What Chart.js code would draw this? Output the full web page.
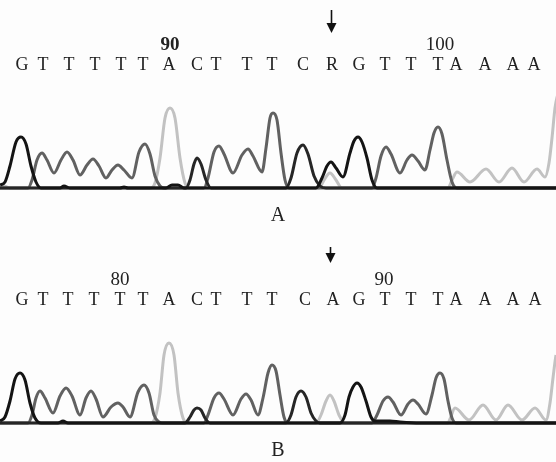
<!DOCTYPE html>
<html>
<head>
<meta charset="utf-8">
<script src="https://cdn.jsdelivr.net/npm/chart.js"></script>
<style>
body { margin: 0; background: #fdfdfd; }
canvas { display: block; }
</style>
</head>
<body>
<canvas id="chartA" width="556" height="235"></canvas>
<canvas id="chartB" width="556" height="227"></canvas>
<script>
// called bases and their positions along the trace
var basesA = ['G','T','T','T','T','T','A','C','T','T','T','C','R','G','T','T','T','A','A','A','A'];
var baseXA = [22, 43, 69, 95, 121, 143, 169, 197, 216, 247, 272, 303, 332, 359, 385, 411, 438, 456, 485, 513, 534];
var basesB = ['G','T','T','T','T','T','A','C','T','T','T','C','A','G','T','T','T','A','A','A','A'];
var baseXB = [22, 43, 68, 94, 120, 143, 169, 197, 216, 247, 272, 305, 333, 359, 385, 411, 438, 456, 485, 513, 535];

// position numbers shown above the sequence
var numLabelsA = ['90', '100'];
var numXA = [170, 440];
var numLabelsB = ['80', '90'];
var numXB = [120, 384];

// mutation arrow position
var arrowXA = 331;
var arrowXB = 330;

// trace channels, [position, signal]
var gTraceA = [[0,3],[5,6],[10,22],[16,46],[21,51],[26,44],[31,22],[36,6],[41,0],[60,0],[64,2],[70,0],[120,0],[124,1],[128,0],
  [166,0],[172,3],[178,3],[184,0],[316,0],[322,10],[327,22],[331,26],[336,20],[343,11],[350,35],[354,47],[358,51],
  [362,46],[367,30],[372,8],[377,0],[556,0]];
var cTraceA = [[0,0],[186,0],[190,8],[194,24],[197,30],[201,24],[206,8],[211,0],[286,0],[291,10],[297,35],[303,43],
  [308,34],[314,12],[320,2],[326,0],[556,0]];
var tTraceA = [[0,0],[28,0],[32,8],[37,28],[42,35],[47,28],[54,15],[61,28],[67,36],[73,28],[80,13],[87,23],[93,29],
  [99,22],[106,10],[112,18],[118,23],[124,18],[132,10],[139,36],[145,44],[150,34],[155,12],[160,2],[164,0],
  [204,0],[208,10],[214,36],[219,42],[224,34],[233,15],[242,33],[248,39],[253,32],[262,16],[266,40],[270,70],
  [273,75],[277,68],[281,35],[285,8],[289,0],[372,0],[376,10],[381,32],[386,41],[391,34],[400,15],[407,28],
  [412,33],[418,27],[425,18],[430,38],[434,55],[438,61],[442,54],[447,28],[452,6],[457,0],[556,0]];
var aTraceA = [[0,0],[4,2],[10,0],[150,0],[155,5],[160,30],[165,70],[170,80],[175,70],[180,30],[185,5],[190,0],
  [319,0],[324,8],[330,15],[336,8],[342,0],[448,0],[452,8],[457,16],[470,6],[486,19],[499,6],[512,20],[524,6],
  [537,19],[545,11],[549,25],[552,50],[555,80],[558,95]];

var gTraceB = [[0,2],[5,6],[10,22],[15,44],[20,50],[25,43],[30,20],[35,5],[41,0],[58,0],[63,2],[68,0],[340,0],[345,8],
  [349,26],[353,36],[357,40],[361,36],[366,22],[371,6],[375,2],[390,2],[400,1],[420,0],[556,0]];
var cTraceB = [[0,0],[185,0],[190,6],[194,13],[197,15],[201,13],[205,5],[210,0],[286,0],[291,8],[296,26],[301,32],
  [306,26],[311,10],[316,2],[320,0],[556,0]];
var tTraceB = [[0,0],[28,0],[32,8],[36,25],[40,32],[45,25],[53,10],[60,27],[66,35],[72,27],[80,8],[86,25],[91,32],
  [96,24],[103,6],[111,16],[118,20],[123,16],[130,6],[138,31],[144,38],[149,30],[154,8],[159,1],[162,0],
  [204,0],[208,8],[214,25],[219,30],[224,24],[233,8],[241,24],[246,29],[251,23],[258,8],[263,25],[268,50],
  [272,58],[276,52],[280,28],[284,6],[288,0],[372,0],[377,8],[383,22],[388,26],[393,21],[401,8],[408,19],
  [413,23],[418,19],[426,9],[432,28],[436,45],[440,50],[444,44],[448,22],[452,5],[456,0],[556,0]];
var aTraceB = [[0,0],[150,0],[155,5],[160,30],[164,68],[169,80],[174,68],[178,30],[183,5],[188,0],[316,0],[321,8],
  [326,22],[330,28],[334,22],[339,8],[345,0],[448,0],[450,4],[455,15],[469,3],[483,18],[496,3],[508,18],[522,3],
  [535,15],[546,3],[550,20],[553,45],[556,68],[559,80]];

function toPoints(trace) {
  return trace.map(function (p) { return { x: p[0], y: p[1] }; });
}

function channel(trace, color) {
  return {
    data: toPoints(trace),
    borderColor: color,
    borderWidth: 3,
    pointRadius: 0,
    fill: false,
    cubicInterpolationMode: 'monotone'
  };
}

// draws sequence letters, numbers, arrow and panel label
var sequencePlugin = {
  id: 'sequence',
  afterDraw: function (chart, args, opts) {
    var ctx = chart.ctx;
    var x = chart.scales.x;
    ctx.save();
    ctx.fillStyle = '#222';
    ctx.textAlign = 'center';
    ctx.textBaseline = 'alphabetic';
    ctx.font = '18px "Liberation Serif"';
    opts.bases.forEach(function (b, i) {
      ctx.fillText(b, x.getPixelForValue(opts.baseX[i]), 70);
    });
    opts.nums.forEach(function (n, i) {
      ctx.font = (opts.boldFirst && i === 0 ? 'bold ' : '') + '19px "Liberation Serif"';
      ctx.fillText(n, x.getPixelForValue(opts.numX[i]), 50);
    });
    // arrow
    var ax = Math.round(x.getPixelForValue(opts.arrowX)) + 0.5;
    ctx.strokeStyle = '#111';
    ctx.lineWidth = 1.6;
    ctx.beginPath();
    ctx.moveTo(ax, opts.arrowTop);
    ctx.lineTo(ax, opts.arrowTip - 6);
    ctx.stroke();
    ctx.fillStyle = '#111';
    ctx.beginPath();
    ctx.moveTo(ax - 5, opts.arrowTip - 10);
    ctx.lineTo(ax + 5, opts.arrowTip - 10);
    ctx.lineTo(ax, opts.arrowTip);
    ctx.closePath();
    ctx.fill();
    // panel label
    ctx.fillStyle = '#222';
    ctx.font = '20px "Liberation Serif"';
    ctx.fillText(opts.label, 278, 221);
    ctx.restore();
  }
};

function makeChart(id, traces, seq, padBottom) {
  return new Chart(document.getElementById(id).getContext('2d'), {
    type: 'line',
    data: {
      datasets: [
        channel(traces[0], '#141414'),
        channel(traces[1], '#262626'),
        channel(traces[2], '#616161'),
        channel(traces[3], '#c2c2c2')
      ]
    },
    options: {
      responsive: false,
      animation: false,
      layout: { padding: { left: 0, right: 0, top: 88, bottom: padBottom } },
      scales: {
        x: { type: 'linear', min: 0, max: 556, display: false },
        y: { min: -4, max: 100, display: false }
      },
      plugins: {
        legend: { display: false },
        tooltip: { enabled: false },
        sequence: seq
      }
    },
    plugins: [sequencePlugin]
  });
}

makeChart('chartA', [gTraceA, cTraceA, tTraceA, aTraceA], {
  bases: basesA, baseX: baseXA, nums: numLabelsA, numX: numXA, boldFirst: true,
  arrowX: arrowXA, arrowTop: 10, arrowTip: 33, label: 'A'
}, 43);

makeChart('chartB', [gTraceB, cTraceB, tTraceB, aTraceB], {
  bases: basesB, baseX: baseXB, nums: numLabelsB, numX: numXB, boldFirst: false,
  arrowX: arrowXB, arrowTop: 12, arrowTip: 28, label: 'B'
}, 35);
</script>
</body>
</html>
